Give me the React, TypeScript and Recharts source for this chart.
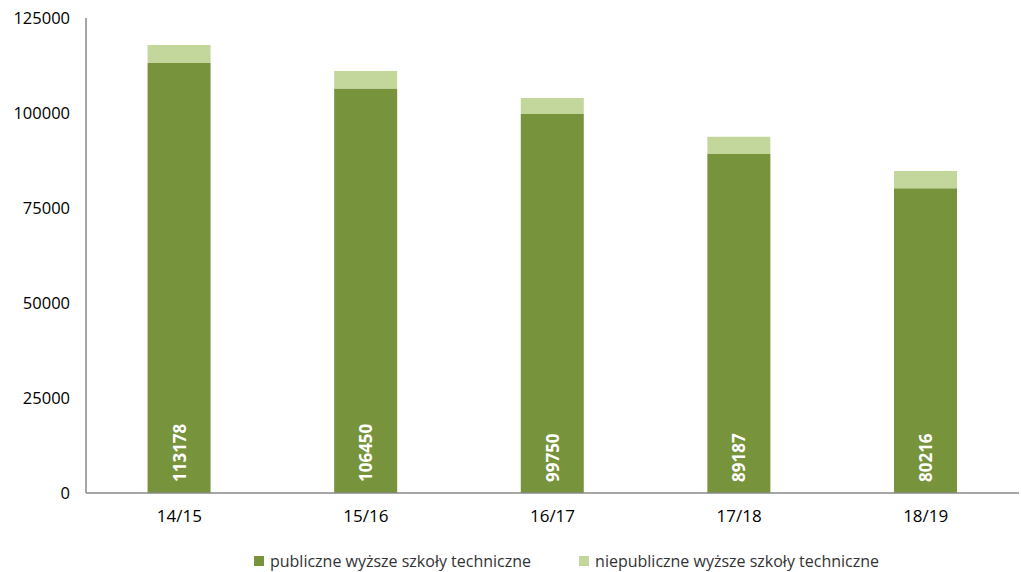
import React from "react";
import { BarChart, Bar, XAxis, YAxis, Legend, LabelList } from "recharts";

const categories = ["14/15", "15/16", "16/17", "17/18", "18/19"];
const publicValues = [113178, 106450, 99750, 89187, 80216];
const privateValues = [4700, 4600, 4200, 4580, 4520];
const yTicks = [0, 25000, 50000, 75000, 100000, 125000];

const data = categories.map((c, i) => ({
  name: c,
  pub: publicValues[i],
  priv: privateValues[i],
}));

const FONT = "'Open Sans', 'Noto Sans', sans-serif";
const DARK = "#77933C";
const LIGHT = "#C3D69B";

const renderLabel = (props: any) => {
  const { x, y, width, height, value } = props;
  const cx = x + width / 2;
  const by = y + height - 11;
  return (
    <text
      x={cx}
      y={by}
      transform={`rotate(-90 ${cx} ${by})`}
      textAnchor="start"
      dominantBaseline="central"
      fill="#ffffff"
      fontWeight="bold"
      fontSize={17}
      fontFamily={FONT}
    >
      {value}
    </text>
  );
};

const renderLegend = () => (
  <div
    style={{
      display: "flex",
      justifyContent: "center",
      gap: 48,
      fontFamily: FONT,
      fontSize: 16,
      color: "#333333",
      marginLeft: 114,
      paddingTop: 20,
      lineHeight: "20px",
    }}
  >
    {[
      { c: DARK, t: "publiczne wyższe szkoły techniczne" },
      { c: LIGHT, t: "niepubliczne wyższe szkoły techniczne" },
    ].map((it) => (
      <div key={it.t} style={{ display: "flex", alignItems: "center", whiteSpace: "nowrap" }}>
        <span style={{ display: "inline-block", width: 10, height: 10, background: it.c, marginRight: 6 }} />
        <span>{it.t}</span>
      </div>
    ))}
  </div>
);

export default function App() {
  return (
    <div style={{ position: "absolute", left: 0, top: 0, background: "#fff" }}>
      <BarChart
        width={1021}
        height={572}
        data={data}
        margin={{ top: 18, right: 2, left: 0, bottom: 2 }}
        barCategoryGap="33%"
      >
        <XAxis
          dataKey="name"
          tickLine={false}
          axisLine={{ stroke: "#888888", strokeWidth: 1.5 }}
          tick={{ fill: "#000", fontSize: 17, fontFamily: FONT }}
          tickMargin={11}
          height={40}
        />
        <YAxis
          domain={[0, 125000]}
          ticks={yTicks}
          interval={0}
          tickLine={false}
          axisLine={{ stroke: "#888888", strokeWidth: 1.5 }}
          tick={{ fill: "#000", fontSize: 16.5, fontFamily: FONT }}
          tickMargin={10}
          width={86}
        />
        <Legend content={renderLegend} verticalAlign="bottom" height={37} wrapperStyle={{ bottom: 4 }} />
        <Bar dataKey="pub" stackId="a" fill={DARK} isAnimationActive={false} name="publiczne wyższe szkoły techniczne">
          <LabelList dataKey="pub" content={renderLabel} />
        </Bar>
        <Bar dataKey="priv" stackId="a" fill={LIGHT} isAnimationActive={false} name="niepubliczne wyższe szkoły techniczne" />
      </BarChart>
    </div>
  );
}
